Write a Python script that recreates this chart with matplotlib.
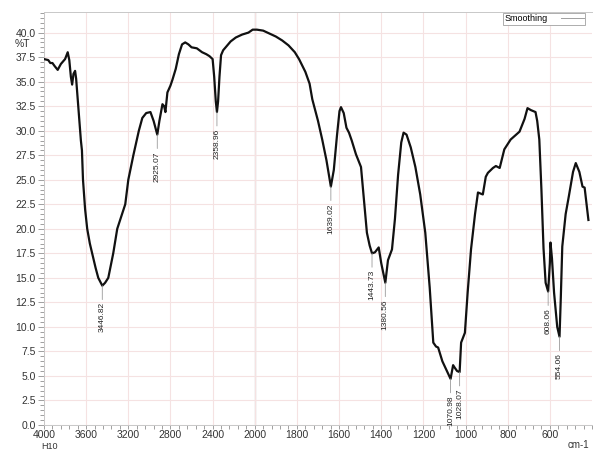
import numpy as np
import matplotlib
matplotlib.use('Agg')
import matplotlib.pyplot as plt
from matplotlib.ticker import FixedLocator, MultipleLocator, FormatStrFormatter
from matplotlib.lines import Line2D

plt.rcParams['font.family'] = ['Liberation Sans', 'DejaVu Sans']

# FTIR spectrum of sample H10 (wavenumber in cm-1, transmittance in %T)
wavenumber = [4000, 3960, 3940, 3920, 3900, 3870, 3840, 3800, 3775, 3760,
              3745, 3733, 3720, 3705, 3695, 3680, 3665, 3650, 3640, 3630,
              3610, 3590, 3565, 3543, 3510, 3485, 3446.82, 3420, 3390, 3343,
              3305, 3260, 3229, 3200, 3152, 3100, 3067, 3030, 2990, 2960,
              2940, 2925.07, 2905, 2876, 2860, 2848, 2829, 2800, 2781, 2750,
              2720, 2690, 2660, 2630, 2600, 2550, 2500, 2460, 2430, 2400,
              2385, 2370, 2358.96, 2348, 2335, 2320, 2300, 2260, 2229, 2180,
              2120, 2060, 2020, 1990, 1960, 1930, 1900, 1870, 1840, 1810,
              1790, 1760, 1740, 1727, 1700, 1680, 1660, 1639.02, 1625, 1610,
              1598, 1591, 1578, 1565, 1553, 1540, 1520, 1496, 1482, 1468,
              1455, 1443.73, 1430, 1412, 1400, 1380.56, 1368, 1349, 1335, 1320,
              1305, 1294, 1280, 1260, 1238, 1215, 1191, 1170, 1153, 1140,
              1130, 1110, 1082, 1070.98, 1059, 1050, 1040, 1028.07, 1021, 1003,
              990, 974, 955, 941, 918, 904, 894, 870, 856, 838,
              816, 786, 744, 720, 706, 690, 668, 660, 650, 640,
              630, 620, 608.06, 600, 597, 590, 580, 565, 554.06, 548,
              541, 525, 510, 490, 477, 460, 445, 435, 417]
transmittance = [37.3, 37.2, 36.9, 36.9, 36.6, 36.2, 36.8, 37.3, 38.0, 37.2,
                 35.5, 34.7, 35.8, 36.1, 35.3, 33.2, 31.0, 29.0, 28.0, 25.0,
                 22.0, 20.0, 18.5, 17.5, 16.0, 15.0, 14.2, 14.5, 15.0, 17.5,
                 20.0, 21.5, 22.5, 25.0, 27.5, 30.0, 31.3, 31.8, 31.9, 31.0,
                 30.2, 29.6, 31.0, 32.7, 32.5, 31.9, 33.9, 34.6, 35.2, 36.3,
                 37.8, 38.8, 39.0, 38.8, 38.5, 38.4, 38.0, 37.8, 37.6, 37.3,
                 35.5, 33.0, 31.9, 33.0, 35.5, 37.7, 38.2, 38.7, 39.1, 39.5,
                 39.8, 40.0, 40.3, 40.3, 40.2, 39.9, 39.6, 39.2, 38.7, 38.0,
                 37.3, 36.0, 34.8, 33.2, 31.0, 29.1, 27.0, 24.3, 26.0, 29.5,
                 32.0, 32.4, 31.8, 30.3, 29.8, 29.0, 27.6, 26.3, 23.0, 19.6,
                 18.3, 17.5, 17.6, 18.1, 16.5, 14.5, 16.8, 17.9, 21.0, 25.5,
                 28.8, 29.8, 29.6, 28.3, 26.3, 23.5, 19.6, 14.0, 8.4, 8.0,
                 7.9, 6.5, 5.2, 4.7, 6.1, 5.8, 5.5, 5.4, 8.4, 9.4,
                 13.5, 17.9, 21.5, 23.7, 23.5, 25.3, 25.7, 26.2, 26.4, 26.2,
                 28.1, 29.1, 29.9, 31.2, 32.3, 32.1, 31.9, 31.0, 29.1, 24.0,
                 18.0, 14.5, 13.6, 16.5, 18.6, 17.0, 13.5, 10.0, 9.0, 13.0,
                 18.2, 21.5, 23.3, 25.8, 26.7, 25.8, 24.3, 24.2, 20.9]

peak_positions = [3446.82, 2925.07, 2358.96, 1639.02, 1443.73, 1380.56,
                  1070.98, 1028.07, 608.06, 554.06]
peak_labels = ['3446.82', '2925.07', '2358.96', '1639.02', '1443.73', '1380.56',
               '1070.98', '1028.07', '608.06', '554.06']

x_major = [4000, 3600, 3200, 2800, 2400, 2000, 1800, 1600, 1400, 1200, 1000, 800, 600]


# x scale is compressed 2:1 above 2000 cm-1
def fwd(x):
    x = np.asarray(x, dtype=float)
    return np.where(x >= 2000, x, 2 * x - 2000)


def inv(u):
    u = np.asarray(u, dtype=float)
    return np.where(u >= 2000, u, (u + 2000) / 2)


fig = plt.figure(figsize=(5.95, 4.5), dpi=100)
ax = fig.add_axes([44 / 595, 25 / 450, 548 / 595, 413 / 450])
ax.set_xscale('function', functions=(fwd, inv))

wn = np.array(wavenumber)
tr = np.array(transmittance)
ax.plot(wn, tr, color='#111111', lw=1.6, zorder=3)

ax.set_xlim(4000, 400)
ax.set_ylim(0, 42.1)

ax.xaxis.set_major_locator(FixedLocator(x_major))
ax.xaxis.set_minor_locator(FixedLocator(list(np.arange(2000, 4000, 80)) + list(np.arange(400, 2000, 40))))
ax.yaxis.set_major_locator(MultipleLocator(2.5))
ax.yaxis.set_minor_locator(MultipleLocator(0.5))
ax.yaxis.set_major_formatter(FormatStrFormatter('%.1f'))

ax.grid(True, which='major', color='#f5e2e2', lw=0.8, zorder=0)
ax.axvline(2000, color='#b8b8b8', lw=0.9, zorder=1)

ax.tick_params(which='both', direction='out', color='#909090', labelsize=7.5,
               labelcolor='#333333', width=0.6)
ax.tick_params(which='major', length=4)
ax.tick_params(which='minor', length=3)
ax.tick_params(axis='x', which='major', length=3, pad=0.5)
ax.tick_params(axis='y', pad=2)
for side in ['top', 'right', 'left', 'bottom']:
    ax.spines[side].set_color('#c8c8c8')
    ax.spines[side].set_linewidth(0.7)
ax.spines['right'].set_visible(False)

# peak labels hanging below each band
for pos, lab in zip(peak_positions, peak_labels):
    y = np.interp(pos, wn[::-1], tr[::-1])
    ax.annotate(lab, xy=(pos, y), xytext=(0, -12), textcoords='offset points',
                rotation=90, ha='center', va='top', fontsize=6, color='#222222',
                arrowprops=dict(arrowstyle='-', color='#9a9a9a', lw=0.6,
                                shrinkA=0, shrinkB=0))

fig.text(22 / 595, 1 - 44 / 450, '%T', fontsize=7.5, color='#333333', ha='center', va='center')
fig.text(49 / 595, 1 - 451 / 450, 'H10', fontsize=6.5, color='#333333', ha='center', va='bottom')
fig.text(578 / 595, 1 - 450 / 450, 'cm-1', fontsize=7, color='#333333', ha='center', va='bottom')

proxy = Line2D([], [], color='#a0a0a0', lw=0.7)
leg = ax.legend([proxy], ['Smoothing'], loc='upper right', bbox_to_anchor=(0.987, 0.998),
                markerfirst=False, fontsize=6.5, handlelength=2.5, borderpad=0.15,
                handletextpad=1.5, fancybox=False, framealpha=1, borderaxespad=0)
leg.get_frame().set_edgecolor('#a0a0a0')
leg.get_frame().set_linewidth(0.6)

fig.savefig('out.png', dpi=100)
